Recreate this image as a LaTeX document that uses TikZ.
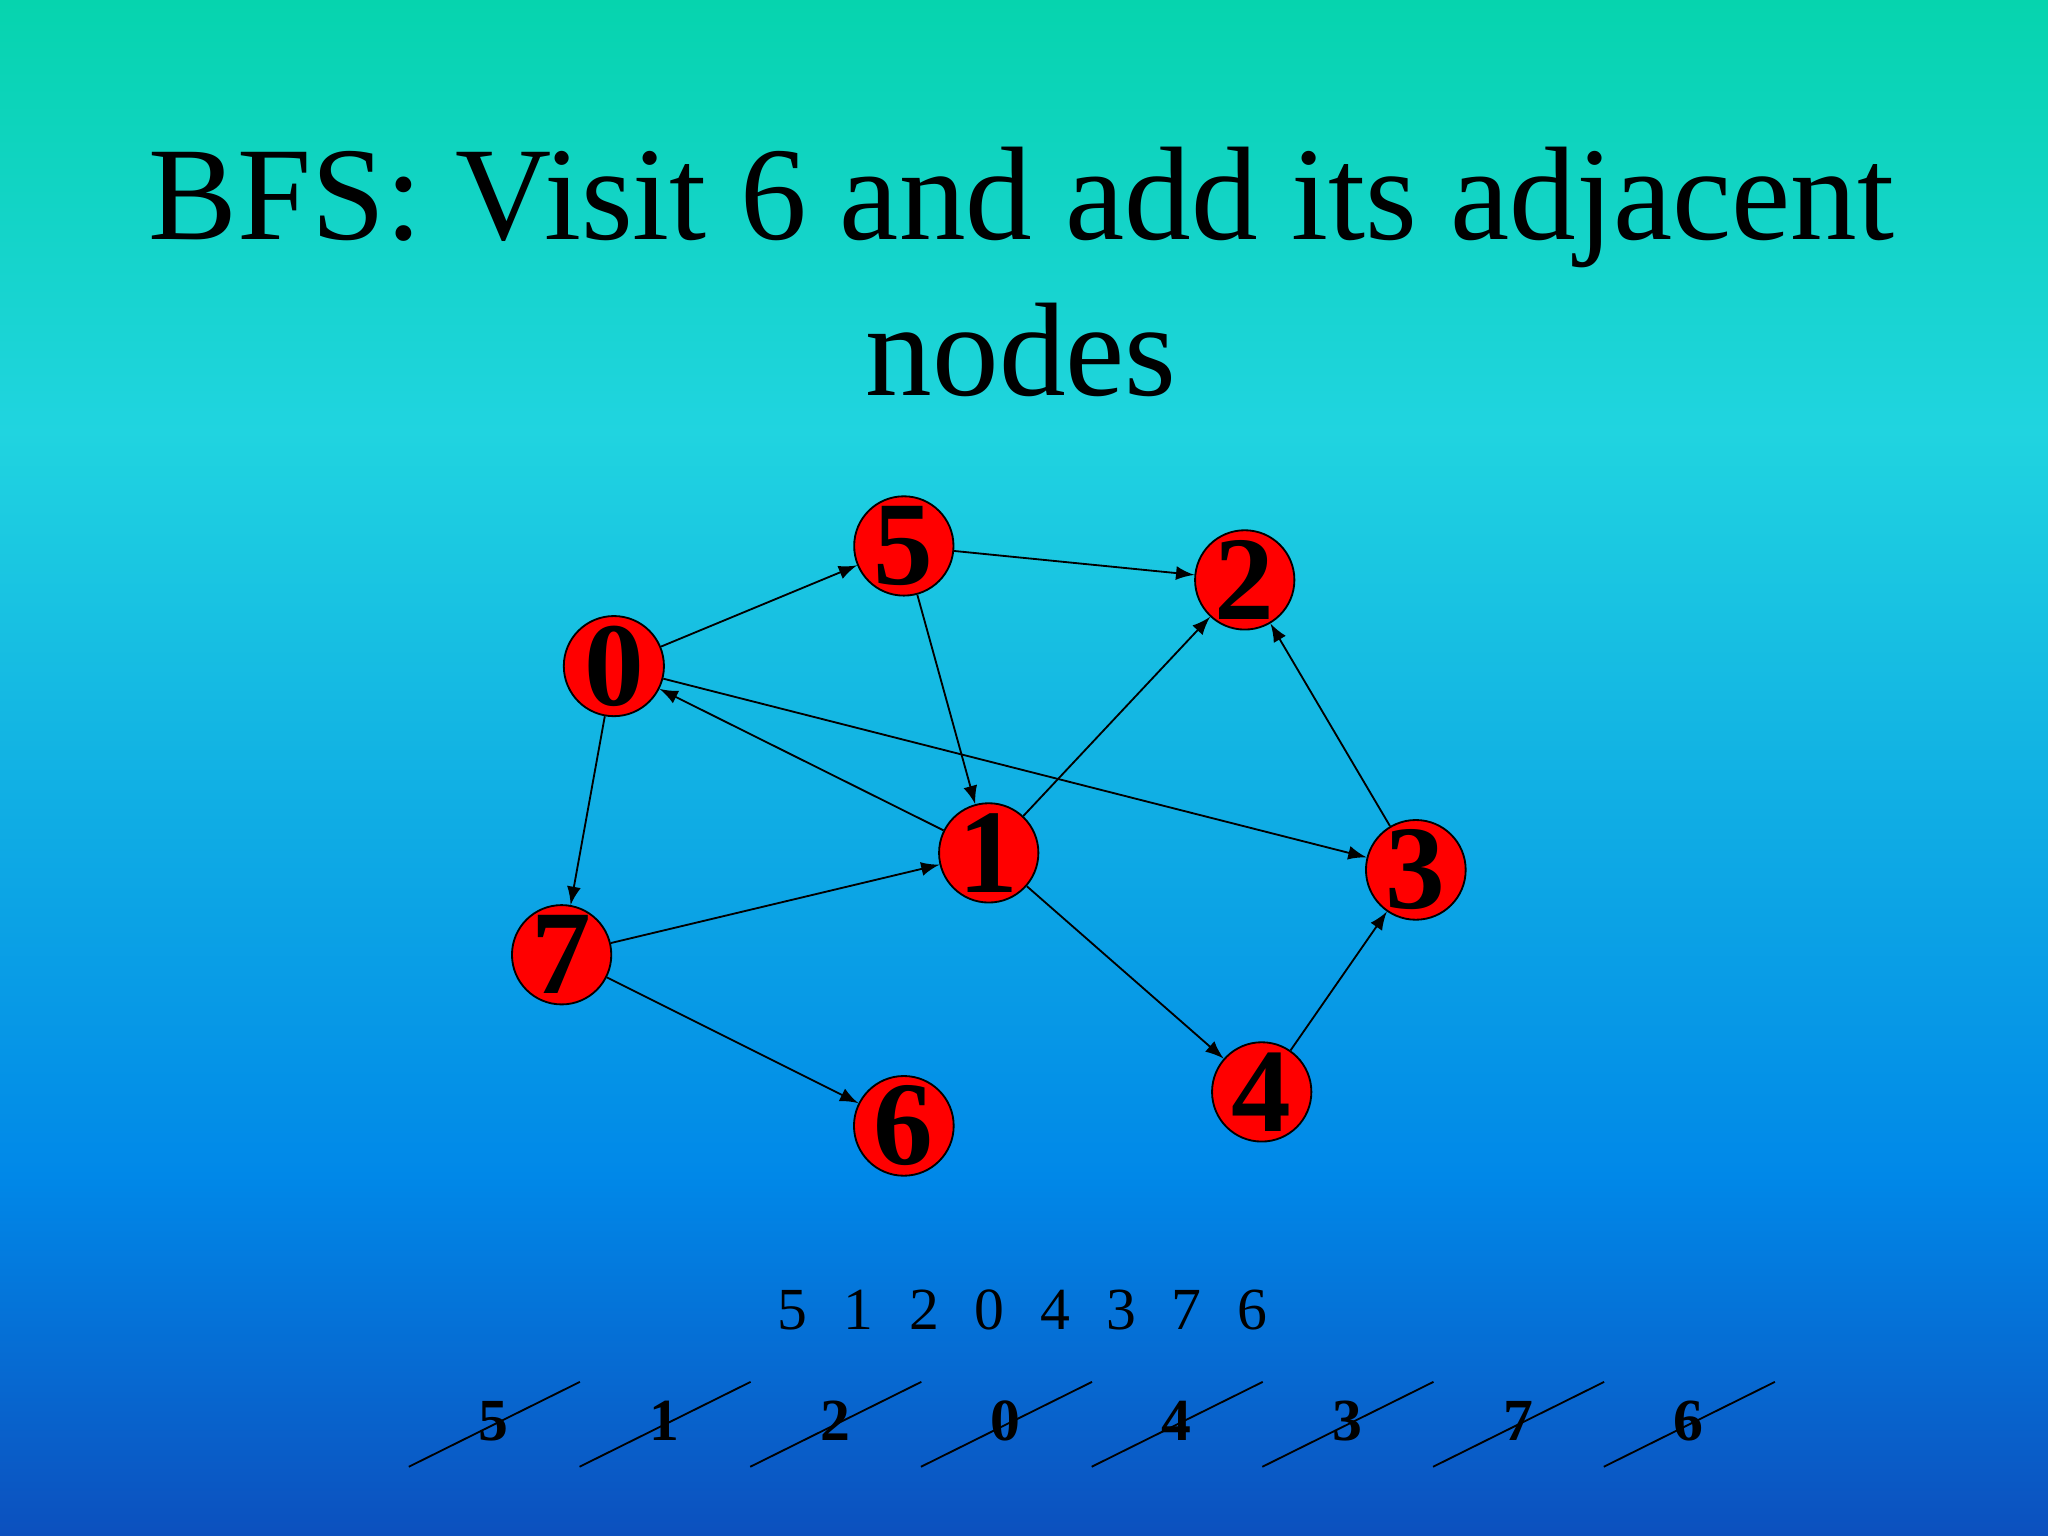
\documentclass[tikz,border=0pt]{standalone}
\usepackage{fontspec}
\setmainfont{Liberation Serif}
\begin{document}
\begin{tikzpicture}[x=0.01cm,y=-0.01cm,
  vert/.style={circle,draw=black,fill=red,minimum size=0.76cm,inner sep=0pt,font=\fontsize{26}{26}\selectfont\bfseries},
  edge/.style={-latex,black,thin},
  strike/.style={black,thin}]
\definecolor{c0}{RGB}{6,212,174}
\definecolor{c1}{RGB}{32,212,224}
\definecolor{c2}{RGB}{0,136,232}
\definecolor{c3}{RGB}{12,80,190}
\useasboundingbox (0,0) rectangle (1568,1176);
\shade[top color=c0,bottom color=c1,draw=none] (0,0) rectangle (1568,331);
\shade[top color=c1,bottom color=c2,draw=none] (0,330) rectangle (1568,901);
\shade[top color=c2,bottom color=c3,draw=none] (0,900) rectangle (1568,1176);
\node[font=\fontsize{29}{34}\selectfont,align=center] (title) at (782,208) {BFS: Visit 6 and add its adjacent\\nodes};
\node[vert] (n5) at (692,418) {5};
\node[vert] (n2) at (953,444) {2};
\node[vert] (n0) at (470,510) {0};
\node[vert] (n1) at (757,653) {1};
\node[vert] (n3) at (1084,666) {3};
\node[vert] (n7) at (430,731) {7};
\node[vert] (n4) at (966,836) {4};
\node[vert] (n6) at (692,862) {6};
\draw[edge] (n0) -- (n5);
\draw[edge] (n5) -- (n2);
\draw[edge] (n5) -- (n1);
\draw[edge] (n1) -- (n0);
\draw[edge] (n0) -- (n3);
\draw[edge] (n1) -- (n2);
\draw[edge] (n3) -- (n2);
\draw[edge] (n0) -- (n7);
\draw[edge] (n7) -- (n1);
\draw[edge] (n1) -- (n4);
\draw[edge] (n4) -- (n3);
\draw[edge] (n7) -- (n6);
\node[font=\fontsize{13}{13}\selectfont] (seq) at (783,1003) {5\hspace{0.6em}1\hspace{0.6em}2\hspace{0.6em}0\hspace{0.6em}4\hspace{0.6em}3\hspace{0.6em}7\hspace{0.6em}6};
\foreach \d [count=\i from 0] in {5,1,2,0,4,3,7,6}{
  \node[font=\fontsize{13}{13}\selectfont\bfseries] (b\i) at (378+130.7*\i,1088) {\d};
  \coordinate (sa\i) at (313+130.7*\i,1123);
  \coordinate (sb\i) at (444+130.7*\i,1058);
  \draw[strike] (sa\i) -- (sb\i);
}
\end{tikzpicture}
\end{document}
